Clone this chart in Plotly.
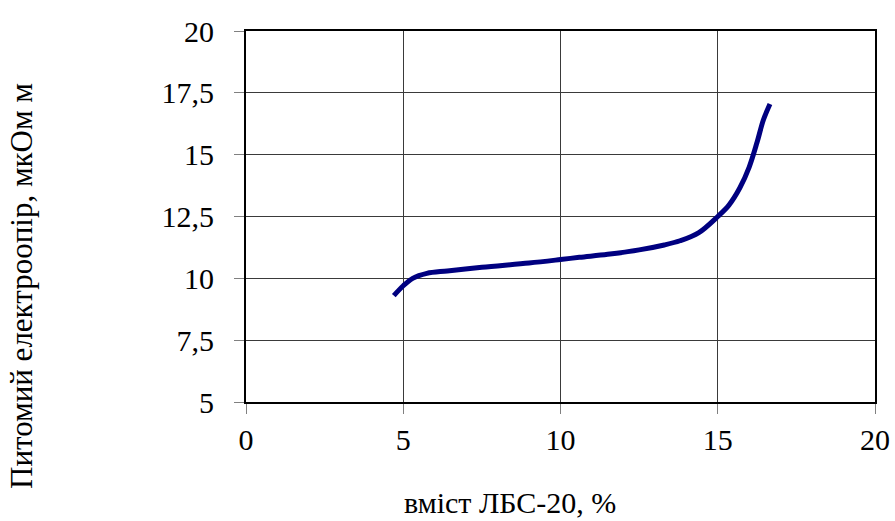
import plotly.graph_objects as go

# Content of ЛБС-20 additive, %
lbs_content = [4.7, 5.0, 5.3, 5.75, 6.4, 7.5, 9.0, 10.0, 10.6, 11.5, 12.5,
               13.3, 13.8, 14.4, 15.0, 15.35, 15.7, 16.0, 16.25, 16.45, 16.66]
# Specific electrical resistivity, µΩ·m
resistivity = [9.3, 9.7, 10.0, 10.2, 10.3, 10.45, 10.62, 10.76, 10.85, 10.97, 11.15,
               11.35, 11.52, 11.85, 12.5, 12.95, 13.65, 14.5, 15.5, 16.4, 17.05]

x_title = "вміст ЛБС-20, %"
y_title = "Питомий електроопір, мкОм м"

font_family = "Times New Roman, Liberation Serif, serif"

fig = go.Figure()
fig.add_trace(go.Scatter(
    x=lbs_content,
    y=resistivity,
    mode="lines",
    line=dict(color="#000080", width=5, shape="spline", smoothing=1.0),
    showlegend=False,
    hoverinfo="x+y",
))

axis_common = dict(
    showline=True,
    mirror=True,
    linecolor="black",
    linewidth=2,
    showgrid=True,
    gridcolor="#3a3a3a",
    gridwidth=1,
    zeroline=False,
    ticks="outside",
    ticklen=10,
    tickcolor="#808080",
    tickwidth=1,
    automargin=False,
    tickfont=dict(family=font_family, size=30, color="black"),
)

fig.update_xaxes(range=[0, 20], dtick=5, tick0=0, ticklabelstandoff=0, **axis_common)
fig.update_yaxes(range=[5, 20], dtick=2.5, tick0=5, ticklabelstandoff=14, **axis_common)

fig.add_annotation(
    text=x_title, xref="paper", yref="paper",
    x=0.42, y=-0.272, xanchor="center", yanchor="middle",
    showarrow=False, font=dict(family=font_family, size=30, color="black"),
)
fig.add_annotation(
    text=y_title, xref="paper", yref="paper",
    x=-0.356, y=0.313, xanchor="center", yanchor="middle", textangle=-90,
    showarrow=False, font=dict(family=font_family, size=31, color="black"),
)

fig.update_layout(
    width=895,
    height=521,
    margin=dict(l=246, r=20, t=31, b=119),
    paper_bgcolor="white",
    plot_bgcolor="white",
    separators=", ",
    font=dict(family=font_family, color="black"),
)

fig.write_html("out.html")
